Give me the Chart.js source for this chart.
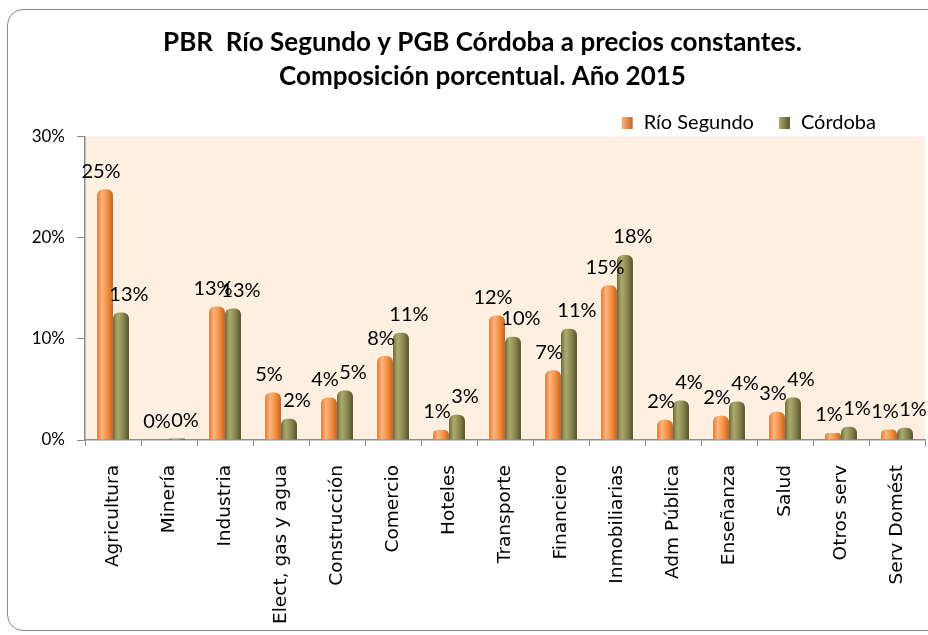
<!DOCTYPE html>
<html>
<head>
<meta charset="utf-8">
<script src="https://cdn.jsdelivr.net/npm/chart.js@4/dist/chart.umd.min.js"></script>
<style>
  html, body { margin: 0; padding: 0; background: #fff; overflow: hidden; }
  #card {
    position: absolute; left: 7px; top: 9px; width: 940px; height: 620px;
    border: 1.5px solid #8c8c8c; border-radius: 16px; background: #fff;
  }
  #wrap { position: absolute; left: 0; top: 0; width: 928px; height: 635px; }
</style>
</head>
<body>
<div id="card"></div>
<div id="wrap"><canvas id="myChart" width="928" height="635"></canvas></div>
<script>
const categories = ["Agricultura", "Minería", "Industria", "Elect, gas y agua", "Construcción",
  "Comercio", "Hoteles", "Transporte", "Financiero", "Inmobiliarias", "Adm Pública",
  "Enseñanza", "Salud", "Otros serv", "Serv Domést"];
const rioSegundo = [24.8, 0.05, 13.2, 4.7, 4.2, 8.3, 1.0, 12.3, 6.9, 15.3, 2.0, 2.4, 2.8, 0.7, 1.05];
const cordoba = [12.6, 0.15, 13.0, 2.1, 4.9, 10.6, 2.5, 10.2, 11.0, 18.3, 3.9, 3.8, 4.2, 1.3, 1.2];
const seriesNames = ["Río Segundo", "Córdoba"];
const yTicks = [0, 10, 20, 30];

// cylinder-ish shading: [edge, highlight, body, dark edge]
const orangeStops = ["#e07a31", "#fcb47d", "#f79646", "#c4682a"];
const greenStops = ["#6e6c38", "#aeab72", "#8d8b52", "#56552c"];

const shade = (stops) => (c) => {
  const chart = c.chart;
  const x = chart.scales.x;
  if (!chart.chartArea || !x || c.dataIndex === undefined) return stops[2];
  const step = x.getPixelForValue(1) - x.getPixelForValue(0);
  const w = step * 0.57 / 2;
  const cx = x.getPixelForValue(c.dataIndex) + (c.datasetIndex === 0 ? -w / 2 : w / 2);
  const g = chart.ctx.createLinearGradient(cx - w / 2, 0, cx + w / 2, 0);
  g.addColorStop(0, stops[0]);
  g.addColorStop(0.3, stops[1]);
  g.addColorStop(0.6, stops[2]);
  g.addColorStop(1, stops[3]);
  return g;
};

const plotBg = {
  id: "plotBg",
  beforeDraw(chart) {
    const { ctx, chartArea: a } = chart;
    ctx.save();
    ctx.fillStyle = "#fdf0e1";
    ctx.fillRect(a.left, a.top, a.right - a.left, a.bottom - a.top);
    ctx.restore();
  }
};

// the original title sits a little right of the canvas centre
const titleShift = {
  id: "titleShift",
  afterLayout(chart) {
    if (chart.titleBlock) chart.titleBlock.left += 40;
  }
};

// Excel nudged its labels sideways, orange a bit left and olive a bit right
const valueLabels = {
  id: "valueLabels",
  afterDatasetsDraw(chart) {
    const ctx = chart.ctx;
    ctx.save();
    ctx.font = "20px Lato";
    ctx.fillStyle = "#000";
    ctx.textAlign = "center";
    ctx.textBaseline = "bottom";
    chart.data.datasets.forEach((ds, i) => {
      const dx = i === 0 ? -4 : 8;
      chart.getDatasetMeta(i).data.forEach((bar, j) => {
        ctx.fillText(Math.round(ds.data[j]) + "%", bar.x + dx, bar.y - 8);
      });
    });
    ctx.restore();
  }
};

const legendBox = {
  id: "legendBox",
  afterDraw(chart) {
    const ctx = chart.ctx;
    ctx.save();
    ctx.font = "20px Lato";
    ctx.textBaseline = "middle";
    const y = 123;
    const right = 876;
    const items = seriesNames.map((n, i) => ({ n, stops: i === 0 ? orangeStops : greenStops }));
    const widths = items.map(it => 22 + ctx.measureText(it.n).width);
    let x = right - widths.reduce((a, b) => a + b, 0) - 25;
    items.forEach((it, i) => {
      const g = ctx.createLinearGradient(x, 0, x + 11, 0);
      g.addColorStop(0, it.stops[1]);
      g.addColorStop(1, it.stops[3]);
      ctx.fillStyle = g;
      ctx.fillRect(x, y - 6, 11, 12);
      ctx.fillStyle = "#000";
      ctx.fillText(it.n, x + 22, y);
      x += widths[i] + 25;
    });
    ctx.restore();
  }
};

new Chart(document.getElementById("myChart"), {
  type: "bar",
  data: {
    labels: categories,
    datasets: [
      { label: seriesNames[0], data: rioSegundo, backgroundColor: shade(orangeStops),
        borderRadius: { topLeft: 6, topRight: 6 }, borderSkipped: "bottom" },
      { label: seriesNames[1], data: cordoba, backgroundColor: shade(greenStops),
        borderRadius: { topLeft: 6, topRight: 6 }, borderSkipped: "bottom" }
    ]
  },
  options: {
    responsive: false,
    animation: false,
    layout: { padding: { left: 0, right: 3, bottom: 0 } },
    datasets: { bar: { barPercentage: 1, categoryPercentage: 0.57 } },
    plugins: {
      legend: { display: false },
      tooltip: { enabled: false },
      title: {
        display: true,
        text: ["PBR  Río Segundo y PGB Córdoba a precios constantes.", "Composición porcentual. Año 2015"],
        color: "#000",
        font: { family: "Lato", size: 26, weight: "bold", lineHeight: 1.3 },
        padding: { top: 26, bottom: 43 }
      }
    },
    scales: {
      x: {
        grid: { drawOnChartArea: false, tickLength: 6, color: "#8c8c8c", offset: true },
        border: { color: "#8c8c8c", width: 1.5 },
        ticks: { minRotation: 90, maxRotation: 90, padding: 19, color: "#000",
          font: { family: "DejaVu Sans", size: 18.5 } },
        afterFit: (s) => { s.height = 195; s.paddingLeft = 0; s.paddingRight = 0; }
      },
      y: {
        min: 0, max: 30,
        grid: { drawOnChartArea: false, tickLength: 8, color: "#8c8c8c" },
        border: { color: "#8c8c8c", width: 1.5 },
        ticks: { stepSize: 10, padding: 12, color: "#000", font: { family: "Lato", size: 17 },
          callback: (v) => yTicks.includes(v) ? v + "%" : "" },
        afterFit: (s) => { s.width = 85; }
      }
    }
  },
  plugins: [plotBg, titleShift, valueLabels, legendBox]
});
</script>
</body>
</html>
